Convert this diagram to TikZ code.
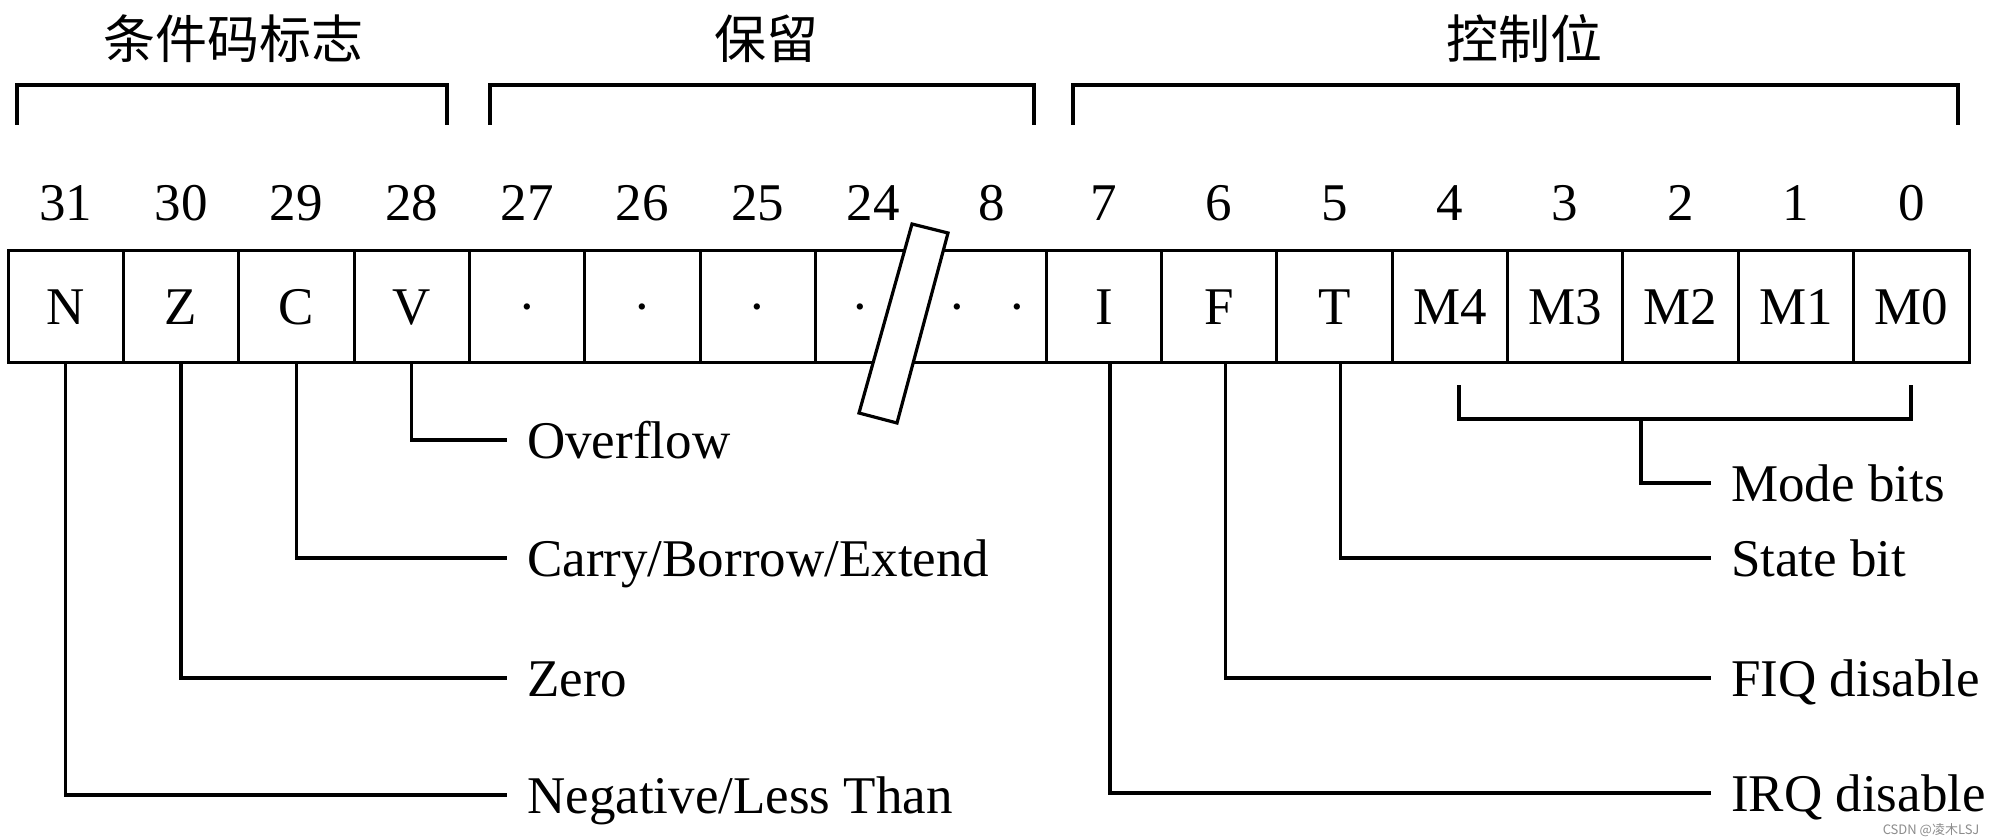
\documentclass[tikz,border=0pt]{standalone}
\usepackage{fontspec}
\setmainfont{Liberation Serif}
\newfontfamily\cjk{Noto Sans CJK SC}
\begin{document}
\begin{tikzpicture}[x=1pt,y=-1pt,
  every node/.style={inner sep=0pt},
  txt/.style={font=\fontsize{53}{60}\selectfont},
  cellbox/.style={txt,draw,line width=3pt,minimum width=115.35pt,minimum height=112pt,text height=37pt,text depth=0pt},
  bitnum/.style={txt,anchor=base},
  lbl/.style={txt,anchor=west,inner xsep=20pt,text height=36pt,text depth=0pt},
  ttl/.style={font=\cjk\fontsize{52}{60}\selectfont},
  ln/.style={line width=3.2pt},
  brk/.style={line width=3.6pt}]
\fill[white] (0,0) rectangle (1994,840);
\useasboundingbox (0,0) rectangle (1994,840);

% titles
\node[ttl] (t1) at (233,39) {条件码标志};
\node[ttl] (t2) at (766,39) {保留};
\node[ttl] (t3) at (1524,39) {控制位};

% top brackets
\coordinate (b1a) at (17,125); \coordinate (b1b) at (17,85); \coordinate (b1c) at (447,85); \coordinate (b1d) at (447,125);
\coordinate (b2a) at (490,125); \coordinate (b2b) at (490,85); \coordinate (b2c) at (1034,85); \coordinate (b2d) at (1034,125);
\coordinate (b3a) at (1073,125); \coordinate (b3b) at (1073,85); \coordinate (b3c) at (1958,85); \coordinate (b3d) at (1958,125);
\draw[brk] (b1a) -- (b1b) -- (b1c) -- (b1d);
\draw[brk] (b2a) -- (b2b) -- (b2c) -- (b2d);
\draw[brk] (b3a) -- (b3b) -- (b3c) -- (b3d);

% bit numbers
\node[bitnum] (n31) at (65.7,220) {31};
\node[bitnum] (n30) at (181.0,220) {30};
\node[bitnum] (n29) at (296.4,220) {29};
\node[bitnum] (n28) at (411.7,220) {28};
\node[bitnum] (n27) at (527.1,220) {27};
\node[bitnum] (n26) at (642.4,220) {26};
\node[bitnum] (n25) at (757.8,220) {25};
\node[bitnum] (n24) at (873.1,220) {24};
\node[bitnum] (n8) at (992,220) {8};
\node[bitnum] (n7) at (1104,220) {7};
\node[bitnum] (n6) at (1219.2,220) {6};
\node[bitnum] (n5) at (1334.5,220) {5};
\node[bitnum] (n4) at (1449.9,220) {4};
\node[bitnum] (n3) at (1565.2,220) {3};
\node[bitnum] (n2) at (1680.6,220) {2};
\node[bitnum] (n1) at (1795.9,220) {1};
\node[bitnum] (n0) at (1911.3,220) {0};

% cells
\node[cellbox] (cN) at (65.7,306) {N};
\node[cellbox] (cZ) at (181.0,306) {Z};
\node[cellbox] (cC) at (296.4,306) {C};
\node[cellbox] (cV) at (411.7,306) {V};
\node[cellbox] (c27) at (527.1,306) {·};
\node[cellbox] (c26) at (642.4,306) {·};
\node[cellbox] (c25) at (757.8,306) {·};
\node[cellbox,minimum width=230.7pt] (cB) at (930.8,306) {};
\node[cellbox] (cI) at (1104,306) {I};
\node[cellbox] (cF) at (1219.2,306) {F};
\node[cellbox] (cT) at (1334.5,306) {T};
\node[cellbox] (cM4) at (1449.9,306) {M4};
\node[cellbox] (cM3) at (1565.2,306) {M3};
\node[cellbox] (cM2) at (1680.6,306) {M2};
\node[cellbox] (cM1) at (1795.9,306) {M1};
\node[cellbox] (cM0) at (1911.3,306) {M0};
\node[txt,text height=37pt,text depth=0pt] (d24) at (860,306) {·};
\node[txt,text height=37pt,text depth=0pt] (d9) at (957,306) {·};
\node[txt,text height=37pt,text depth=0pt] (d8) at (1017,306) {·};

% break marker
\draw[line width=3.2pt,fill=white] (912,224) -- (948,233) -- (897,423) -- (859,413) -- cycle;

% left labels
\node[lbl] (lV) at (507,440) {Overflow};
\node[lbl] (lC) at (507,558) {Carry/Borrow/Extend};
\node[lbl] (lZ) at (507,678) {Zero};
\node[lbl] (lN) at (507,795) {Negative/Less Than};
\draw[ln] (cV.south) |- (lV.west);
\draw[ln] (cC.south) |- (lC.west);
\draw[ln] (cZ.south) |- (lZ.west);
\draw[ln] (cN.south) |- (lN.west);

% right labels
\node[lbl] (lM) at (1711,483) {Mode bits};
\node[lbl] (lT) at (1711,558) {State bit};
\node[lbl] (lF) at (1711,678) {FIQ disable};
\node[lbl] (lI) at (1711,793) {IRQ disable};
\draw[ln] ([xshift=6pt]cT.south) |- (lT.west);
\draw[ln] ([xshift=6pt]cF.south) |- (lF.west);
\draw[ln] ([xshift=6pt]cI.south) |- (lI.west);

% mode bits bracket
\coordinate (mLt) at (1459,385); \coordinate (mLb) at (1459,419);
\coordinate (mRt) at (1911,385); \coordinate (mRb) at (1911,419);
\coordinate (mS) at (1641,419);
\draw[ln] (mLt) -- (mLb) -- (mRb) -- (mRt);
\draw[ln] (mS) |- (lM.west);

% watermark
\node[font=\cjk\fontsize{13}{14}\selectfont,text=black!45] (wm) at (1931,830) {CSDN @凌木LSJ};
\end{tikzpicture}
\end{document}
